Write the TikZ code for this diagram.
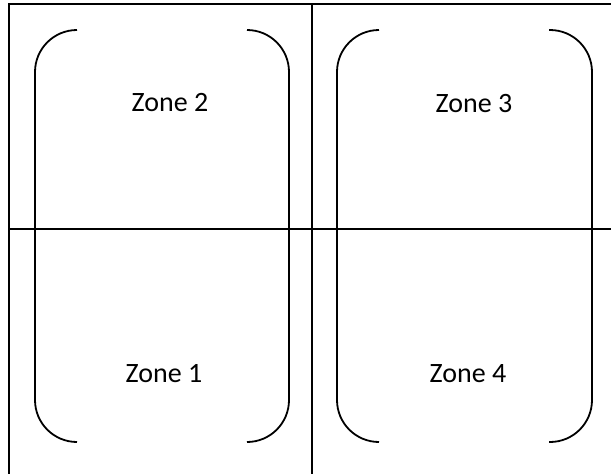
\documentclass[tikz,border=0pt]{standalone}
\usepackage{fontspec}
\setmainfont{Carlito}
\begin{document}
\begin{tikzpicture}[x=1pt,y=-1pt,
  grid line/.style={line width=1.4pt},
  bracket/.style={line width=1.8pt,rounded corners=42pt},
  zone/.style={font=\fontsize{28}{32}\selectfont,anchor=base,inner sep=0pt}]
\useasboundingbox (0,0) rectangle (611,474);
\coordinate (tl) at (9,4);
\coordinate (tr) at (611,4);
\coordinate (bl) at (9,474);
\coordinate (mt) at (312,4);
\coordinate (mb) at (312,474);
\coordinate (hl) at (9,229);
\coordinate (hr) at (611,229);
\draw[grid line] (bl) -- (tl) -- (tr);
\draw[grid line] (mt) -- (mb);
\draw[grid line] (hl) -- (hr);
% brackets round each column
\foreach \xin/\xout in {77/35, 247/289, 379/337, 549/592}
  \draw[bracket] (\xin,30) -- (\xout,30) -- (\xout,442) -- (\xin,442);
\node[zone] (zone2) at (170,111) {Zone 2};
\node[zone] (zone1) at (164,382) {Zone 1};
\node[zone] (zone3) at (474,112) {Zone 3};
\node[zone] (zone4) at (468,382) {Zone 4};
\end{tikzpicture}
\end{document}
